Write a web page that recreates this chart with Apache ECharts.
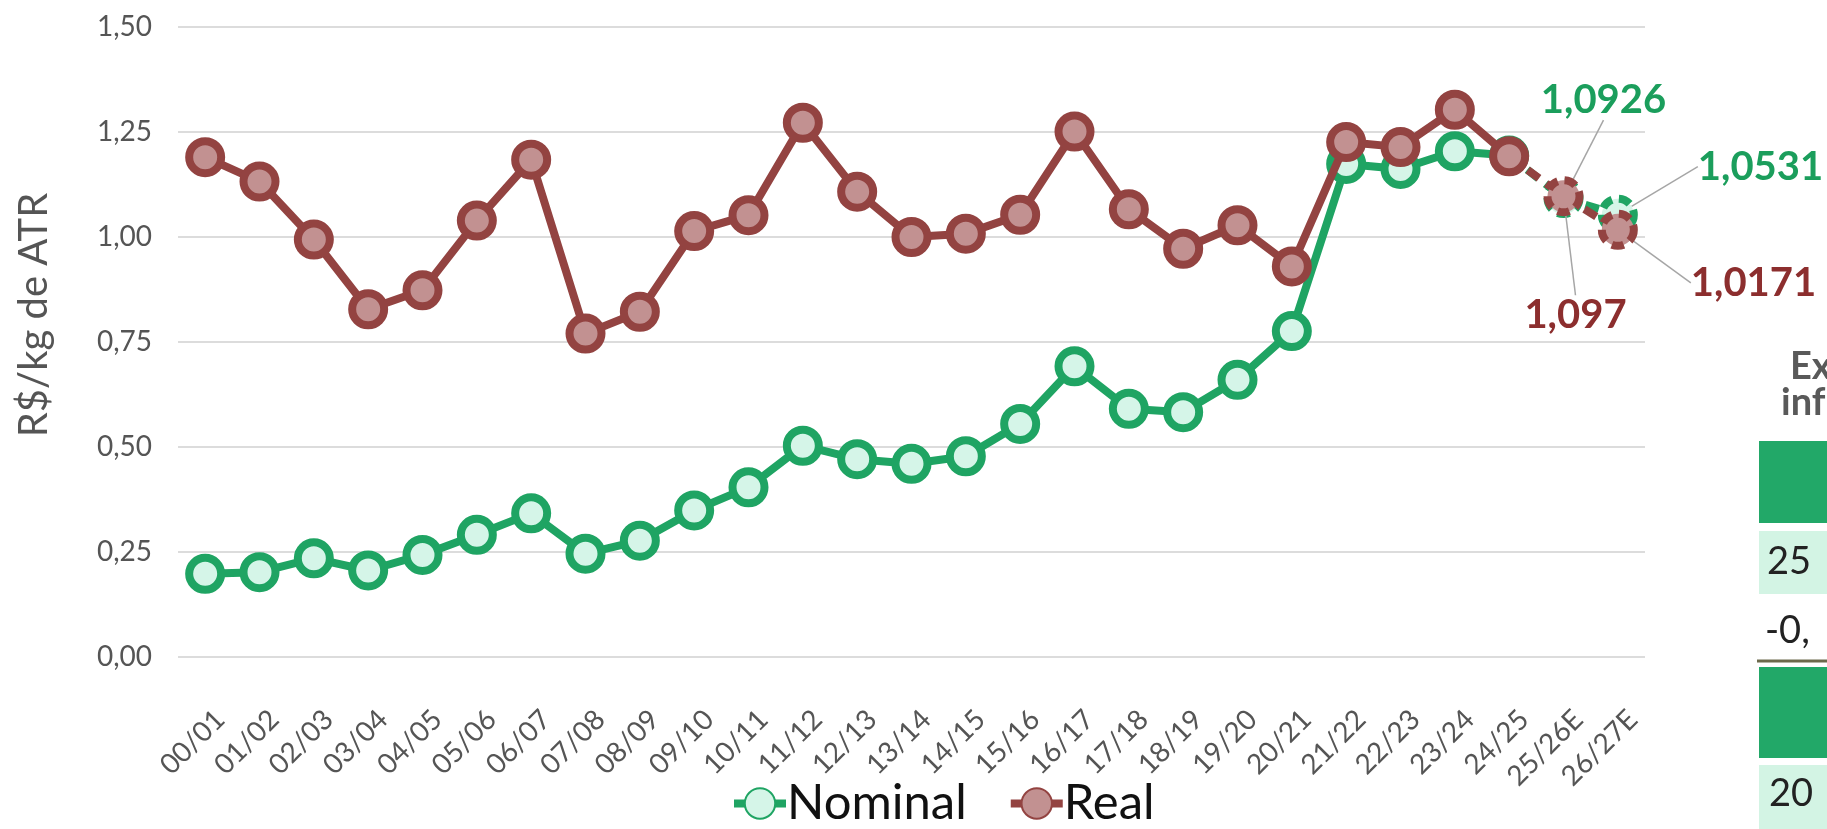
<!DOCTYPE html>
<html>
<head>
<meta charset="utf-8">
<script src="https://cdn.jsdelivr.net/npm/echarts@6/dist/echarts.min.js"></script>
<style>
  html, body { margin: 0; padding: 0; background: #fff; }
  #chart { width: 1827px; height: 829px; }
</style>
</head>
<body>
<div id="chart"></div>
<script>
// safras (eixo x)
var categories = ['00/01', '01/02', '02/03', '03/04', '04/05', '05/06', '06/07', '07/08', '08/09',
    '09/10', '10/11', '11/12', '12/13', '13/14', '14/15', '15/16', '16/17', '17/18', '18/19',
    '19/20', '20/21', '21/22', '22/23', '23/24', '24/25', '25/26E', '26/27E'];

// R$/kg de ATR
var nominal = [0.198, 0.202, 0.235, 0.206, 0.243, 0.291, 0.342, 0.246, 0.277, 0.349, 0.404, 0.503,
    0.471, 0.460, 0.478, 0.555, 0.692, 0.591, 0.583, 0.660, 0.776, 1.174, 1.162, 1.204, 1.194,
    1.0926, 1.0531];
var real = [1.190, 1.132, 0.994, 0.828, 0.873, 1.039, 1.184, 0.770, 0.822, 1.014, 1.052, 1.272,
    1.108, 1.000, 1.008, 1.053, 1.251, 1.066, 0.972, 1.028, 0.930, 1.226, 1.214, 1.303, 1.192,
    1.097, 1.0171];

var yTicks = [0, 0.25, 0.5, 0.75, 1.0, 1.25, 1.5];

// ultimo ano observado; depois disso estimativa (E)
var lastActual = 24;

var GREEN = '#1fa463', GREEN_FILL = '#d5f5e8';
var RED = '#934341', RED_FILL = '#c29191';
var FONT = 'Lato';

function fmt(v, d) {
    return v.toFixed(d).replace('.', ',');
}

function actualPart(arr) {
    return arr.map(function (v, i) { return i <= lastActual ? v : '-'; });
}

function forecastPart(arr) {
    return arr.map(function (v, i) {
        if (i < lastActual) return '-';
        if (i === lastActual) return {value: v, symbol: 'none'};
        return v;
    });
}

function decimalsOf(v) {
    var s = String(v).split('.')[1];
    return s ? s.length : 0;
}

// posicao dos rotulos das estimativas, relativa ao ponto
var labelOffsets = {
    'Nominal': {25: [40, -98, 'center'], 26: [80, -48, 'left']},
    'Real': {25: [12, 119, 'center'], 26: [73, 53, 'left']}
};

function forecastSeries(name, arr, color, fill, z) {
    return {
        name: name,
        type: 'line',
        z: z,
        data: forecastPart(arr),
        symbol: 'circle',
        symbolSize: 32,
        lineStyle: {color: color, width: 8, type: [14, 9]},
        itemStyle: {color: fill, borderColor: color, borderWidth: 8, borderType: [12, 7]},
        label: {
            show: true,
            position: 'top',
            fontFamily: FONT,
            fontWeight: 'bold',
            fontSize: 40,
            color: name === 'Nominal' ? '#1b9e5c' : '#8c2e2e',
            formatter: function (p) {
                if (p.dataIndex <= lastActual) return '';
                return fmt(arr[p.dataIndex], decimalsOf(arr[p.dataIndex]));
            }
        },
        labelLine: {show: true, lineStyle: {color: '#a6a6a6', width: 1.5}},
        labelLayout: function (p) {
            var o = labelOffsets[name][p.dataIndex];
            if (!o) return {};
            var cx = p.rect.x + p.rect.width / 2;
            var cy = p.rect.y + p.rect.height / 2;
            return {x: cx + o[0], y: cy + o[1], align: o[2], verticalAlign: 'middle'};
        }
    };
}

function actualSeries(name, arr, color, fill, z) {
    return {
        name: name,
        type: 'line',
        z: z,
        data: actualPart(arr),
        symbol: 'circle',
        symbolSize: 32,
        lineStyle: {color: color, width: 8},
        itemStyle: {color: fill, borderColor: color, borderWidth: 8}
    };
}

var chart = echarts.init(document.getElementById('chart'));

chart.setOption({
    animation: false,
    textStyle: {fontFamily: FONT},
    grid: {left: 178, right: 182, top: 27, bottom: 172},
    legend: {
        data: ['Nominal', 'Real'],
        left: 725,
        top: 774,
        itemWidth: 52,
        itemHeight: 38,
        itemGap: 40,
        lineStyle: {width: 8},
        textStyle: {fontFamily: FONT, fontSize: 49, color: '#111', padding: [0, 0, 0, -4]}
    },
    xAxis: {
        type: 'category',
        data: categories,
        axisLine: {show: false},
        axisTick: {show: false},
        axisLabel: {
            interval: 0,
            showMinLabel: true,
            showMaxLabel: true,
            rotate: 45,
            margin: 43,
            lineHeight: 42,
            fontFamily: FONT,
            fontSize: 28,
            color: '#555',
            // linha vazia empurra o texto um pouco para a direita
            formatter: function (v) { return '\n' + v; }
        }
    },
    yAxis: {
        type: 'value',
        min: yTicks[0],
        max: yTicks[yTicks.length - 1],
        interval: yTicks[1] - yTicks[0],
        name: 'R$/kg de ATR',
        nameLocation: 'middle',
        nameGap: 124,
        nameTextStyle: {fontFamily: FONT, fontSize: 40, color: '#555', padding: [0, 0, 0, 54]},
        axisLabel: {
            margin: 26,
            fontFamily: FONT,
            fontSize: 28,
            color: '#555',
            formatter: function (v) { return fmt(v, 2); }
        },
        splitLine: {lineStyle: {color: '#dcdcdc', width: 2}}
    },
    series: [
        actualSeries('Nominal', nominal, GREEN, GREEN_FILL, 2),
        forecastSeries('Nominal', nominal, GREEN, GREEN_FILL, 2),
        actualSeries('Real', real, RED, RED_FILL, 3),
        forecastSeries('Real', real, RED, RED_FILL, 3)
    ],
    // tabela cortada na borda direita
    graphic: [
        {type: 'text', left: 1790, top: 348, style: {text: 'Ex', font: 'bold 38px Lato', fill: '#595959'}},
        {type: 'text', left: 1781, top: 384, style: {text: 'inf', font: 'bold 38px Lato', fill: '#595959'}},
        {type: 'rect', shape: {x: 1759, y: 441, width: 70, height: 82}, style: {fill: '#22a868'}},
        {type: 'rect', shape: {x: 1759, y: 531, width: 70, height: 63}, style: {fill: '#d3f4e4'}},
        {type: 'text', left: 1767, top: 543, style: {text: '25', font: '38px Lato', fill: '#222'}},
        {type: 'text', left: 1765, top: 612, style: {text: '-0,', font: '38px Lato', fill: '#222'}},
        {type: 'line', shape: {x1: 1757, y1: 661, x2: 1827, y2: 661}, style: {stroke: '#6d6a4c', lineWidth: 3}},
        {type: 'rect', shape: {x: 1759, y: 667, width: 70, height: 91}, style: {fill: '#22a868'}},
        {type: 'rect', shape: {x: 1759, y: 765, width: 70, height: 64}, style: {fill: '#d3f4e4'}},
        {type: 'text', left: 1769, top: 775, style: {text: '20', font: '38px Lato', fill: '#222'}}
    ]
});
</script>
</body>
</html>
